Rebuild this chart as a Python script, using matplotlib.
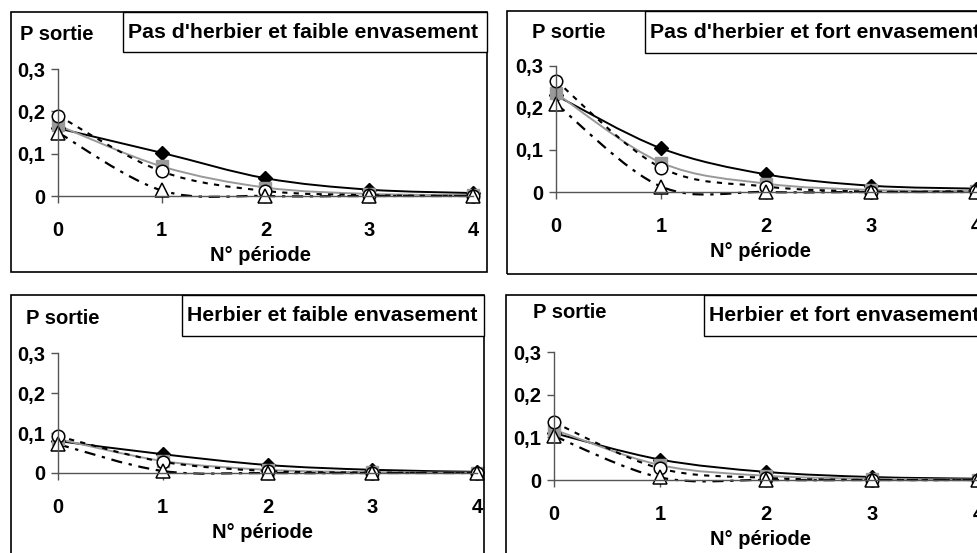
import numpy as np
import matplotlib
matplotlib.use("Agg")
import matplotlib.pyplot as plt
from matplotlib.path import Path
from matplotlib.patches import PathPatch, Rectangle

plt.rcParams['font.family'] = ['Liberation Sans', 'DejaVu Sans']
plt.rcParams['font.weight'] = 'bold'

periods = [0, 1, 2, 3, 4]
titles = ["Pas d'herbier et faible envasement", "Pas d'herbier et fort envasement",
          "Herbier et faible envasement", "Herbier et fort envasement"]

# one list per series, one row per panel (TL, TR, BL, BR)
diamond = [[0.160, 0.102, 0.042, 0.015, 0.007],
           [0.230, 0.104, 0.042, 0.015, 0.008],
           [0.080, 0.047, 0.020, 0.008, 0.003],
           [0.110, 0.048, 0.019, 0.007, 0.003]]
square = [[0.167, 0.070, 0.020, 0.005, 0.002],
          [0.235, 0.070, 0.020, 0.005, 0.002],
          [0.085, 0.030, 0.008, 0.002, 0.001],
          [0.118, 0.035, 0.010, 0.003, 0.001]]
circle = [[0.190, 0.058, 0.012, 0.002, 0.000],
          [0.265, 0.058, 0.013, 0.001, 0.002],
          [0.092, 0.028, 0.005, 0.001, 0.000],
          [0.135, 0.027, 0.005, 0.000, 0.000]]
triangle = [[0.150, 0.013, 0.000, 0.000, 0.000],
            [0.210, 0.013, 0.000, 0.000, 0.000],
            [0.072, 0.005, 0.000, 0.000, 0.000],
            [0.103, 0.006, 0.000, 0.000, 0.000]]

W, H = 978, 553
fig = plt.figure(figsize=(9.78, 5.53), dpi=100)

# pixel layout of each panel: axis anchors, frame, title box, "P sortie" label
panels = [
    dict(x0=58, x4=473, y0=196, y3=69, frame=(11, 12, 487, 272), tbox=(123, 12, 487, 52), lab=(57, 35)),
    dict(x0=556, x4=976, y0=192, y3=66, frame=(507, 11, 995, 274), tbox=(645, 11, 995, 53), lab=(569, 33)),
    dict(x0=58, x4=477, y0=473, y3=353, frame=(11, 295, 484, 565), tbox=(182, 295, 484, 336), lab=(63, 318)),
    dict(x0=554, x4=978, y0=480, y3=352, frame=(506, 295, 995, 565), tbox=(704, 295, 995, 336), lab=(570, 313)),
]

FS = 14.5


def smooth_path(x, y):
    # Catmull-Rom style Bezier, like Excel's smoothed lines
    x = np.asarray(x, float)
    y = np.asarray(y, float)
    verts = [(x[0], y[0])]
    codes = [Path.MOVETO]
    n = len(x)
    for i in range(n - 1):
        p0 = (x[max(i - 1, 0)], y[max(i - 1, 0)])
        p1 = (x[i], y[i])
        p2 = (x[i + 1], y[i + 1])
        p3 = (x[min(i + 2, n - 1)], y[min(i + 2, n - 1)])
        c1 = (p1[0] + (p2[0] - p0[0]) / 6, p1[1] + (p2[1] - p0[1]) / 6)
        c2 = (p2[0] - (p3[0] - p1[0]) / 6, p2[1] - (p3[1] - p1[1]) / 6)
        verts += [c1, c2, p2]
        codes += [Path.CURVE4] * 3
    return Path(verts, codes)


def fx(px):
    return px / W


def fy(py):
    return 1 - py / H


xlo, xhi = -0.3, 4.2
ylo, yhi = -0.03, 0.32

for k, p in enumerate(panels):
    # panel frame
    l, t, r, b = p['frame']
    fig.patches.append(Rectangle((fx(l), fy(b)), fx(r) - fx(l), fy(t) - fy(b),
                                 transform=fig.transFigure, fill=False, ec='black', lw=1.2, zorder=0))
    # title box
    l, t, r, b = p['tbox']
    fig.patches.append(Rectangle((fx(l), fy(b)), fx(r) - fx(l), fy(t) - fy(b),
                                 transform=fig.transFigure, fc='white', ec='black', lw=1.0, zorder=1))
    fig.text(fx(l + 5), fy((t + b) / 2), titles[k], ha='left', va='center',
             fontsize=15.3, fontweight='bold')
    fig.text(fx(p['lab'][0]), fy(p['lab'][1]), "P sortie", ha='center', va='center',
             fontsize=FS, fontweight='bold')

    sx = (p['x4'] - p['x0']) / 4
    sy = (p['y0'] - p['y3']) / 0.3
    left = p['x0'] + xlo * sx
    right = p['x0'] + xhi * sx
    bottom = p['y0'] - ylo * sy
    top = p['y0'] - yhi * sy
    ax = fig.add_axes([fx(left), fy(bottom), fx(right) - fx(left), fy(top) - fy(bottom)])
    ax.set_xlim(xlo, xhi)
    ax.set_ylim(ylo, yhi)
    ax.patch.set_visible(False)

    for s in ['top', 'right']:
        ax.spines[s].set_visible(False)
    ax.spines['left'].set_position(('data', 0))
    ax.spines['bottom'].set_position(('data', 0))
    ax.spines['left'].set_bounds(0, 0.3)
    ax.spines['bottom'].set_bounds(0, 4)
    for s in ['left', 'bottom']:
        ax.spines[s].set_color('#555555')
        ax.spines[s].set_linewidth(1.0)

    ax.set_xticks(periods)
    ax.set_yticks([0, 0.1, 0.2, 0.3])
    ax.set_yticklabels(['0', '0,1', '0,2', '0,3'])
    ax.tick_params(axis='both', direction='out', length=5, width=1.0, color='#555555',
                   labelsize=FS, pad=4)
    ax.tick_params(axis='x', pad=13)
    for lbl in ax.get_xticklabels() + ax.get_yticklabels():
        lbl.set_fontweight('bold')
    ax.set_xlabel("N° période", fontsize=FS, fontweight='bold', labelpad=4)

    # smoothed lines
    styles = [
        (diamond[k], dict(ec='black', lw=1.4, ls='-')),
        (square[k], dict(ec='#999999', lw=1.4, ls='-')),
        (circle[k], dict(ec='black', lw=1.5, ls=(0, (2.5, 3)))),
        (triangle[k], dict(ec='black', lw=1.6, ls=(0, (5, 3, 1.5, 3)))),
    ]
    for vals, st in styles:
        ax.add_patch(PathPatch(smooth_path(periods, vals), fill=False, clip_on=False, **st))

    ax.plot(periods, diamond[k], ls='none', marker='D', ms=7.5, mfc='black', mec='black', clip_on=False)
    ax.plot(periods, square[k], ls='none', marker='s', ms=8.5, mfc='#999999', mec='#999999', clip_on=False)
    ax.plot(periods, circle[k], ls='none', marker='o', ms=9, mfc='white', mec='black', mew=1.1, clip_on=False)
    ax.plot(periods, triangle[k], ls='none', marker='^', ms=9.5, mfc='white', mec='black', mew=1.1, clip_on=False)

fig.savefig("out.png", dpi=100)
